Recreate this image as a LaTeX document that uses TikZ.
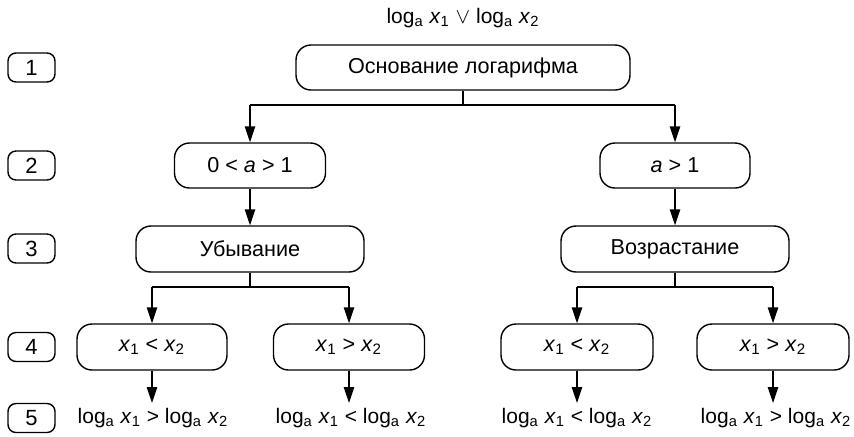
\documentclass[tikz,border=0pt]{standalone}
\usepackage{fontspec}
\setmainfont{Liberation Sans}
\usetikzlibrary{arrows.meta}
\newcommand{\Lga}{log\textsubscript{a}}
\newcommand{\xvar}[1]{\textit{x}\textsubscript{#1}}
\begin{document}
\begin{tikzpicture}[x=0.5pt,y=-0.5pt,
  every node/.style={font=\fontsize{10.5}{12.6}\selectfont},
  box/.style={draw, rounded corners=7.5pt, minimum height=22.5pt, inner sep=0pt, line width=0.7pt,
    font=\fontsize{10.8}{13}\selectfont},
  numbox/.style={draw, rounded corners=4pt, minimum width=23.5pt, minimum height=14.5pt, inner sep=0pt, line width=0.7pt,
    font=\fontsize{11}{13}\selectfont},
  wire/.style={line width=0.7pt},
  arr/.style={-{Triangle[length=8pt,width=5.2pt]}, line width=0.7pt},
  lbl/.style={inner sep=0pt}]
\useasboundingbox (0,0) rectangle (854,436);

% level numbers
\node[numbox] (r1) at (31.5,67.5) {1};
\node[numbox] (r2) at (31.5,165.5) {2};
\node[numbox] (r3) at (31.5,248.5) {3};
\node[numbox] (r4) at (31.5,347) {4};
\node[numbox] (r5) at (31.5,418) {5};

% heading
\node[lbl] (top) at (463,18) {\Lga\ \xvar{1} $\vee$ \Lga\ \xvar{2}};

% level 1
\node[box, minimum width=167pt] (base) at (463,67.5) {Основание логарифма};

% level 2
\node[box, minimum width=75.5pt] (aL) at (250,165.5) {0 < \textit{a} > 1};
\node[box, minimum width=75pt] (aR) at (675,165.5) {\textit{a} > 1};

% level 3
\node[box, minimum width=114pt, minimum height=23pt] (dec) at (250,249) {Убывание};
\node[box, minimum width=114pt, minimum height=23pt] (inc) at (675,249) {Возрастание};

% level 4
\node[box, minimum width=75pt, minimum height=23pt] (c1) at (152,347) {\xvar{1} < \xvar{2}};
\node[box, minimum width=75.5pt, minimum height=23pt] (c2) at (349,347) {\xvar{1} > \xvar{2}};
\node[box, minimum width=76pt, minimum height=23pt] (c3) at (577,347) {\xvar{1} < \xvar{2}};
\node[box, minimum width=76pt, minimum height=23pt] (c4) at (773,347) {\xvar{1} > \xvar{2}};

% level 5
\node[lbl] (o1) at (153,418) {\Lga\ \xvar{1} > \Lga\ \xvar{2}};
\node[lbl] (o2) at (351,418) {\Lga\ \xvar{1} < \Lga\ \xvar{2}};
\node[lbl] (o3) at (577,418) {\Lga\ \xvar{1} < \Lga\ \xvar{2}};
\node[lbl] (o4) at (776,418) {\Lga\ \xvar{1} > \Lga\ \xvar{2}};

% connectors
\coordinate (s1) at (463,105);
\draw[wire] (base.south) -- (s1);
\draw[wire] (s1 -| aL) -- (s1 -| aR);
\draw[arr] (s1 -| aL) -- (aL.north);
\draw[arr] (s1 -| aR) -- (aR.north);
\draw[arr] (aL.south) -- (dec.north);
\draw[arr] (aR.south) -- (inc.north);

\coordinate (s2) at (250,287);
\draw[wire] (dec.south) -- (s2);
\draw[wire] (s2 -| c1) -- (s2 -| c2);
\draw[arr] (s2 -| c1) -- (c1.north);
\draw[arr] (s2 -| c2) -- (c2.north);

\coordinate (s3) at (675,287);
\draw[wire] (inc.south) -- (s3);
\draw[wire] (s3 -| c3) -- (s3 -| c4);
\draw[arr] (s3 -| c3) -- (c3.north);
\draw[arr] (s3 -| c4) -- (c4.north);

\draw[arr] (c1.south) -- (c1.south |- 0,403);
\draw[arr] (c2.south) -- (c2.south |- 0,403);
\draw[arr] (c3.south) -- (c3.south |- 0,403);
\draw[arr] (c4.south) -- (c4.south |- 0,403);
\end{tikzpicture}
\end{document}
